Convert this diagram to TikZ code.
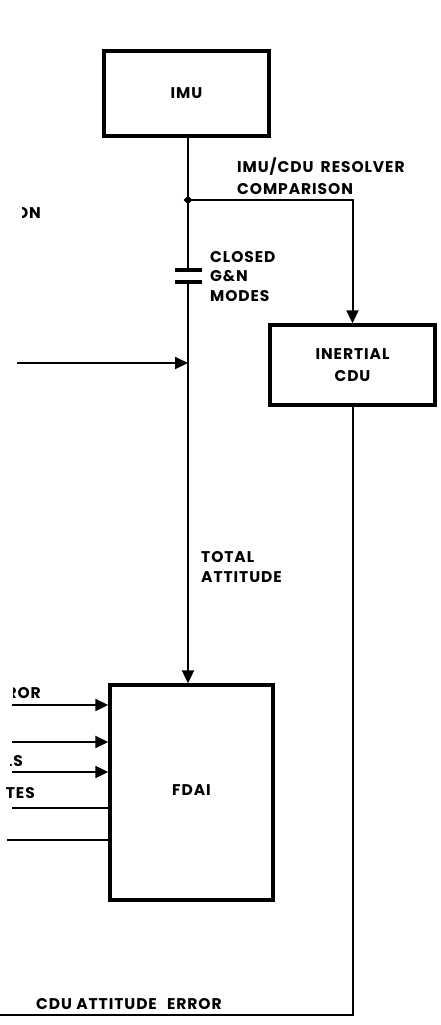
\documentclass[tikz,border=0pt]{standalone}
\usepackage{fontspec}
\setmainfont{Poppins}[LetterSpace=6]
\usetikzlibrary{arrows.meta,shapes.geometric}
\begin{document}
\begin{tikzpicture}[x=1pt,y=-1pt,
  box/.style={draw, line width=3.4pt, inner sep=0pt, font=\fontsize{15.5}{22}\selectfont\bfseries, align=center},
  conn/.style={line width=2pt},
  arr/.style={conn, -{Triangle[length=13pt,width=12pt]}},
  plate/.style={line width=3.2pt},
  lbl/.style={inner sep=0pt, font=\fontsize{15.5}{20}\selectfont\bfseries, align=left}]
\useasboundingbox (0,0) rectangle (440,1025);

% blocks
\node[box, minimum width=165pt, minimum height=85pt] (imu) at (186.5,93.5) {IMU};
\node[box, minimum width=165pt, minimum height=80pt] (cdu) at (352.5,365) {INERTIAL\\CDU};
\node[box, minimum width=163pt, minimum height=215pt] (fdai) at (191.5,792.5) {\raisebox{5pt}{FDAI}};

% junction and switch
\coordinate (j) at (188,200);
\coordinate (p1) at (188,270);
\coordinate (p2) at (188,282);
\coordinate (p1l) at (175,270);
\coordinate (p1r) at (202,270);
\coordinate (p2l) at (175,282);
\coordinate (p2r) at (202,282);

\draw[conn] (imu.south -| j) -- (p1);
\draw[plate] (p1l) -- (p1r);
\draw[plate] (p2l) -- (p2r);
\draw[arr] (p2) -- (p2 |- fdai.north);
\draw[arr] (j) -- (j -| cdu.north) -- (cdu.north);
\node[diamond, fill, inner sep=0pt, minimum size=9pt] (jd) at (j) {};

% left input to attitude line
\coordinate (in0) at (17,363);
\draw[arr] (in0) -- (in0 -| j);

% FDAI inputs
\coordinate (in1) at (12,705);
\coordinate (in2) at (12,742);
\coordinate (in3) at (12,772);
\coordinate (in4) at (12,808);
\coordinate (in5) at (7,840);
\draw[arr] (in1) -- (in1 -| fdai.west);
\draw[arr] (in2) -- (in2 -| fdai.west);
\draw[arr] (in3) -- (in3 -| fdai.west);
\draw[conn] (in4) -- (in4 -| fdai.west);
\draw[conn] (in5) -- (in5 -| fdai.west);

% CDU attitude error output
\coordinate (out) at (0,1015);
\draw[conn] (cdu.south) -- (cdu.south |- out) -- (out);

% labels
\node[lbl, anchor=west, font=\fontsize{15.5}{22}\selectfont\bfseries] (lres) at (237,176) {IMU/CDU\hspace{3pt} RESOLVER\\COMPARISON};
\node[lbl, anchor=west, font=\fontsize{15.5}{19.5}\selectfont\bfseries] (lsw) at (210,276.5) {CLOSED\\G\&N\\MODES};
\node[lbl, anchor=west] (ltot) at (201,567) {TOTAL\\ATTITUDE};
\node[lbl, anchor=west] (lerr) at (36,1004) {CDU ATTITUDE\hspace{6pt} ERROR};

% partially cut labels at the left edge
\begin{scope}
\clip (22,195) rectangle (60,230);
\node[lbl, anchor=east] (lon) at (41,213) {ON};
\end{scope}
\begin{scope}
\clip (13,680) rectangle (60,705);
\node[lbl, anchor=east] (lror) at (41,693) {ROR};
\end{scope}
\begin{scope}
\clip (10,750) rectangle (60,770);
\node[lbl, anchor=east] (lls) at (23,761) {LS};
\end{scope}
\begin{scope}
\clip (1,780) rectangle (60,805);
\node[lbl, anchor=east] (ltes) at (35,793) {TES};
\end{scope}
\end{tikzpicture}
\end{document}
